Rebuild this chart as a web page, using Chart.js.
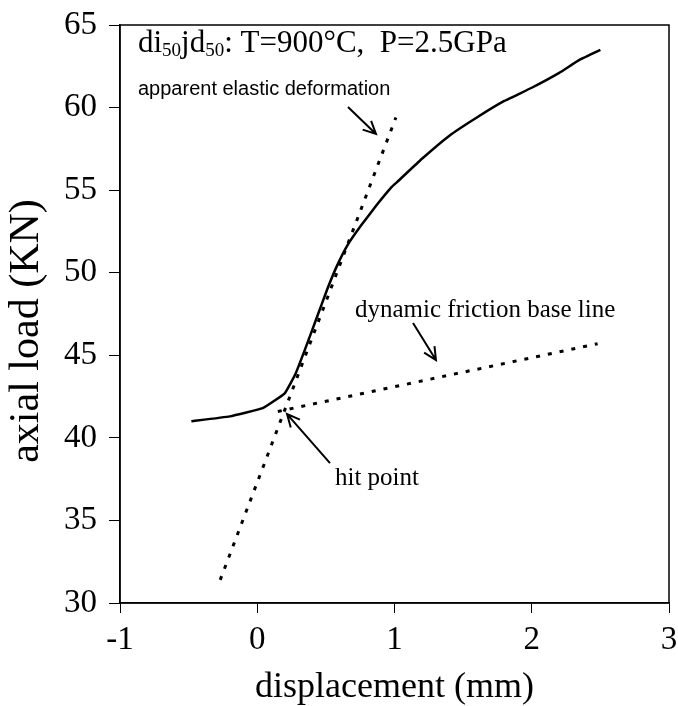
<!DOCTYPE html>
<html>
<head>
<meta charset="utf-8">
<style>
  html, body { margin: 0; padding: 0; background: #fff; }
  #wrap { width: 678px; height: 706px; }
</style>
<script src="https://cdn.jsdelivr.net/npm/chart.js@4.4.1/dist/chart.umd.min.js"></script>
</head>
<body>
<div id="wrap"><canvas id="chart-load"></canvas></div>
<script>
// measured load curve (displacement mm, axial load KN)
const curveX = [-0.48, -0.2, 0.04, 0.2, 0.28, 0.35, 0.43, 0.51, 0.58, 0.66, 0.76, 0.87, 0.98, 1.02, 1.2, 1.4, 1.6, 1.8, 2.0, 2.2, 2.35, 2.5];
const curveY = [41.0, 41.3, 41.8, 42.7, 43.9, 45.4, 47.2, 49.0, 50.4, 51.7, 52.9, 54.1, 55.2, 55.5, 56.9, 58.3, 59.4, 60.4, 61.2, 62.1, 62.9, 63.5];

// fitted guide lines
const elasticX = [-0.27, 1.01];
const elasticY = [31.4, 59.4];
const frictionX = [0.15, 2.48];
const frictionY = [41.6, 45.7];

const xTicks = [-1, 0, 1, 2, 3];
const yTicks = [30, 35, 40, 45, 50, 55, 60, 65];

const toPoints = (xs, ys) => xs.map((x, i) => ({ x: x, y: ys[i] }));

const SERIF = "'Liberation Serif', 'Times New Roman', serif";
const SANS = "'Liberation Sans', Arial, sans-serif";

// frame, y title, annotation texts and arrows
const annotations = {
	id: "annotations",
	afterDatasetsDraw(chart) {
		const { ctx, chartArea, scales } = chart;
		const px = (v) => scales.x.getPixelForValue(v);
		const py = (v) => scales.y.getPixelForValue(v);

		ctx.save();
		ctx.strokeStyle = "#000";
		ctx.lineWidth = 1.5;
		ctx.strokeRect(chartArea.left, chartArea.top, chartArea.right - chartArea.left, chartArea.bottom - chartArea.top);

		ctx.fillStyle = "#000";

		// y axis title, a bit below the axis centre like the original
		ctx.save();
		ctx.translate(27, py(46.47));
		ctx.rotate(-Math.PI / 2);
		ctx.font = "42px " + SERIF;
		ctx.textAlign = "center";
		ctx.textBaseline = "middle";
		ctx.fillText("axial load (KN)", 0, 0);
		ctx.restore();

		ctx.textBaseline = "alphabetic";
		ctx.textAlign = "left";

		// title with subscripts
		let x = px(-0.869);
		const y = py(63.36);
		const big = "31px " + SERIF;
		const small = "19px " + SERIF;
		const parts = [["di", big, 0], ["50", small, 4], ["jd", big, 0], ["50", small, 4], [": T=900°C,  P=2.5GPa", big, 0]];
		parts.forEach(([t, f, dy]) => {
			ctx.font = f;
			ctx.fillText(t, x, y + dy);
			x += ctx.measureText(t).width;
		});

		ctx.font = "20px " + SANS;
		ctx.fillText("apparent elastic deformation", px(-0.869), py(60.76));

		ctx.font = "25px " + SERIF;
		ctx.fillText("dynamic friction base line", px(0.712), py(47.31));
		ctx.fillText("hit point", px(0.566), py(37.14));

		const arrow = (x1, y1, x2, y2) => {
			const a = px(x1), b = py(y1), c = px(x2), d = py(y2);
			const ang = Math.atan2(d - b, c - a);
			const h = 14;
			ctx.lineWidth = 2;
			ctx.beginPath();
			ctx.moveTo(a, b);
			ctx.lineTo(c, d);
			ctx.moveTo(c - h * Math.cos(ang - 0.45), d - h * Math.sin(ang - 0.45));
			ctx.lineTo(c, d);
			ctx.lineTo(c - h * Math.cos(ang + 0.45), d - h * Math.sin(ang + 0.45));
			ctx.stroke();
		};
		arrow(0.661, 60.03, 0.865, 58.40);
		arrow(1.135, 46.95, 1.302, 44.71);
		arrow(0.530, 38.47, 0.217, 41.44);
		ctx.restore();
	},
};

new Chart(document.getElementById("chart-load"), {
	type: "line",
	data: {
		datasets: [
			{
				data: toPoints(curveX, curveY),
				borderColor: "#000",
				borderWidth: 2.5,
				pointRadius: 0,
				tension: 0.1,
			},
			{
				data: toPoints(elasticX, elasticY),
				borderColor: "#000",
				borderWidth: 3,
				borderDash: [4, 8],
				pointRadius: 0,
			},
			{
				data: toPoints(frictionX, frictionY),
				borderColor: "#000",
				borderWidth: 3,
				borderDash: [4, 8],
				pointRadius: 0,
			},
		],
	},
	options: {
		responsive: true,
		maintainAspectRatio: false,
		animation: false,
		layout: {
			padding: { left: 0, right: 9, top: 25, bottom: 0 },
		},
		plugins: {
			legend: { display: false },
			title: { display: false },
			tooltip: { enabled: false },
		},
		scales: {
			x: {
				type: "linear",
				min: -1,
				max: 3,
				afterBuildTicks: (s) => { s.ticks = xTicks.map((v) => ({ value: v })); },
				afterFit: (s) => {
					s.height = 103;
					s.paddingLeft = 0;
					s.paddingRight = 0;
				},
				border: { display: true, color: "#000", width: 1.5 },
				grid: { drawOnChartArea: false, drawTicks: true, tickLength: 10, color: "#000" },
				ticks: {
					color: "#000",
					padding: 8,
					maxRotation: 0,
					font: { family: SERIF, size: 33 },
				},
				title: {
					display: true,
					text: "displacement (mm)",
					color: "#000",
					font: { family: SERIF, size: 36, lineHeight: 1 },
					padding: { top: 0, bottom: 0 },
				},
			},
			y: {
				min: 30,
				max: 65,
				afterBuildTicks: (s) => { s.ticks = yTicks.map((v) => ({ value: v })); },
				afterFit: (s) => {
					s.width = 120;
					s.paddingTop = 0;
					s.paddingBottom = 0;
				},
				border: { display: true, color: "#000", width: 1.5 },
				grid: { drawOnChartArea: false, drawTicks: true, tickLength: 11, color: "#000" },
				ticks: {
					color: "#000",
					padding: 12,
					font: { family: SERIF, size: 33 },
				},
				title: { display: false },
			},
		},
	},
	plugins: [annotations],
});
</script>
</body>
</html>
